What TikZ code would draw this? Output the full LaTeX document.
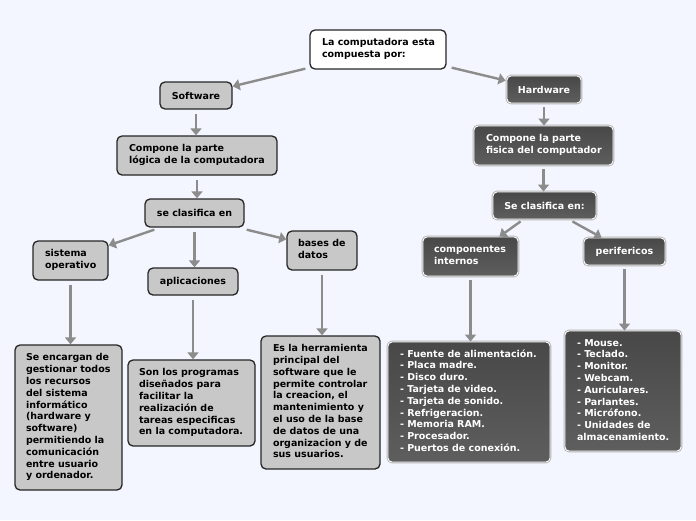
\documentclass[tikz,border=0pt]{standalone}
\usepackage{fontspec}
\setmainfont{DejaVu Sans}
\usetikzlibrary{arrows.meta,calc}
\definecolor{bg}{HTML}{F3F6FE}
\definecolor{lgray}{HTML}{C8C8C8}
\definecolor{dtop}{HTML}{484848}
\definecolor{dbot}{HTML}{5E5E5E}
\definecolor{arrc}{HTML}{8C8C8C}
\newcommand{\tbk}[2]{\makebox[#1][l]{\begin{tabular}{@{}l@{}}#2\end{tabular}}}
\begin{document}
\begin{tikzpicture}[x=1pt,y=-1pt,
 base/.style={rectangle, rounded corners=5pt, inner sep=0pt, font=\bfseries\fontsize{9.5}{11.8}\selectfont},
 lbox/.style={base, draw=black!85, line width=1.3pt, fill=lgray, text=black},
 wbox/.style={base, draw=black!85, line width=1.3pt, fill=white, text=black},
 dbox/.style={base, rounded corners=4pt, draw=white, line width=0.9pt, top color=dtop, bottom color=dbot, text=white, preaction={draw=black!30, line width=2.6pt}},
 arr/.style={draw=arrc, line width=2.4pt, -{Triangle[length=7pt,width=11pt]}},
 vs/.style={arr, shorten <=4pt}
]
\useasboundingbox (0,0) rectangle (696,520);
\fill[bg] (0,0) rectangle (696,520);

% left side
\node[wbox, minimum width=136pt, minimum height=39pt] (root) at (378,49.5) {\tbk{112pt}{La computadora esta\\compuesta por:}};
\node[lbox, minimum width=72pt, minimum height=27pt] (sw) at (196,95.5) {Software};
\node[lbox, minimum width=160pt, minimum height=39pt] (slog) at (197,155.5) {\tbk{136pt}{Compone la parte\\lógica de la computadora}};
\node[lbox, minimum width=99pt, minimum height=28pt] (scl) at (194.5,213) {se clasifica en};
\node[lbox, minimum width=75pt, minimum height=39pt] (so) at (70.5,260.5) {\tbk{51pt}{sistema\\operativo}};
\node[lbox, minimum width=90pt, minimum height=27pt] (ap) at (193,281.5) {aplicaciones};
\node[lbox, minimum width=70pt, minimum height=39pt] (bd) at (322,250.5) {\tbk{48pt}{bases de\\datos}};
\node[lbox, minimum width=107pt, minimum height=145pt] (sod) at (68.5,417.5) {\tbk{85pt}{Se encargan de\\gestionar todos\\los recursos\\del sistema\\informático\\(hardware y\\software)\\permitiendo la\\comunicación\\entre usuario\\y ordenador.}};
\node[lbox, minimum width=127pt, minimum height=86pt] (apd) at (191.5,403) {\tbk{105pt}{Son los programas\\diseñados para\\facilitar la\\realización de\\tareas especificas\\en la computadora.}};
\node[lbox, minimum width=119pt, minimum height=133pt] (bdd) at (320.5,402.5) {\tbk{95pt}{Es la herramienta\\principal del\\software que le\\permite controlar\\la creacion, el\\mantenimiento y\\el uso de la base\\de datos de una\\organizacion y de\\sus usuarios.}};

% right side
\node[dbox, minimum width=74pt, minimum height=27pt] (hw) at (544,89.5) {Hardware};
\node[dbox, minimum width=139pt, minimum height=39pt] (hwc) at (543.5,145.5) {\tbk{115pt}{Compone la parte\\fisica del computador}};
\node[dbox, minimum width=103pt, minimum height=27pt] (hcl) at (544.5,205.5) {Se clasifica en:};
\node[dbox, minimum width=95pt, minimum height=39pt] (ci) at (470.5,256.5) {\tbk{73pt}{componentes\\internos}};
\node[dbox, minimum width=81pt, minimum height=27pt] (pf) at (624.5,251.5) {perifericos};
\node[dbox, minimum width=162pt, minimum height=120pt] (cil) at (469,402) {\tbk{138pt}{- Fuente de alimentación.\\- Placa madre.\\- Disco duro.\\- Tarjeta de video.\\- Tarjeta de sonido.\\- Refrigeracion.\\- Memoria RAM.\\- Procesador.\\- Puertos de conexión.}};
\node[dbox, minimum width=116pt, minimum height=120pt] (pfl) at (623,391) {\tbk{92pt}{- Mouse.\\- Teclado.\\- Monitor.\\- Webcam.\\- Auriculares.\\- Parlantes.\\- Micrófono.\\- Unidades de\\almacenamiento.}};

% connectors
\draw[arr] ($(root.south west)+(-4,-1)$) -- ($(sw.north east)+(0,5)$);
\draw[arr] ($(root.south east)+(5,-2)$) -- ($(hw.north west)+(-1,5)$);
\draw[vs] (sw.south) -- (sw.south |- slog.north);
\draw[vs] (slog.south) -- (slog.south |- scl.north);
\draw[arr] ($(scl.south west)+(10,2)$) -- ($(so.north east)+(0,5)$);
\draw[vs] (scl.south) -- (scl.south |- ap.north);
\draw[arr] ($(scl.south east)+(2,2)$) -- ($(bd.north west)+(0,9)$);
\draw[vs] (so.south) -- (so.south |- sod.north);
\draw[vs] (ap.south) -- (ap.south |- apd.north);
\draw[vs] (bd.south) -- (bd.south |- bdd.north);
\draw[vs] (hw.south) -- (hw.south |- hwc.north);
\draw[vs] (hwc.south) -- (hwc.south |- hcl.north);
\draw[arr] ($(hcl.south west)+(28,2)$) -- ($(ci.north east)+(-19,0)$);
\draw[arr] ($(hcl.south east)+(-24,2)$) -- ($(pf.north west)+(18,0)$);
\draw[vs] (ci.south) -- (ci.south |- cil.north);
\draw[vs] (pf.south) -- (pf.south |- pfl.north);
\end{tikzpicture}
\end{document}
